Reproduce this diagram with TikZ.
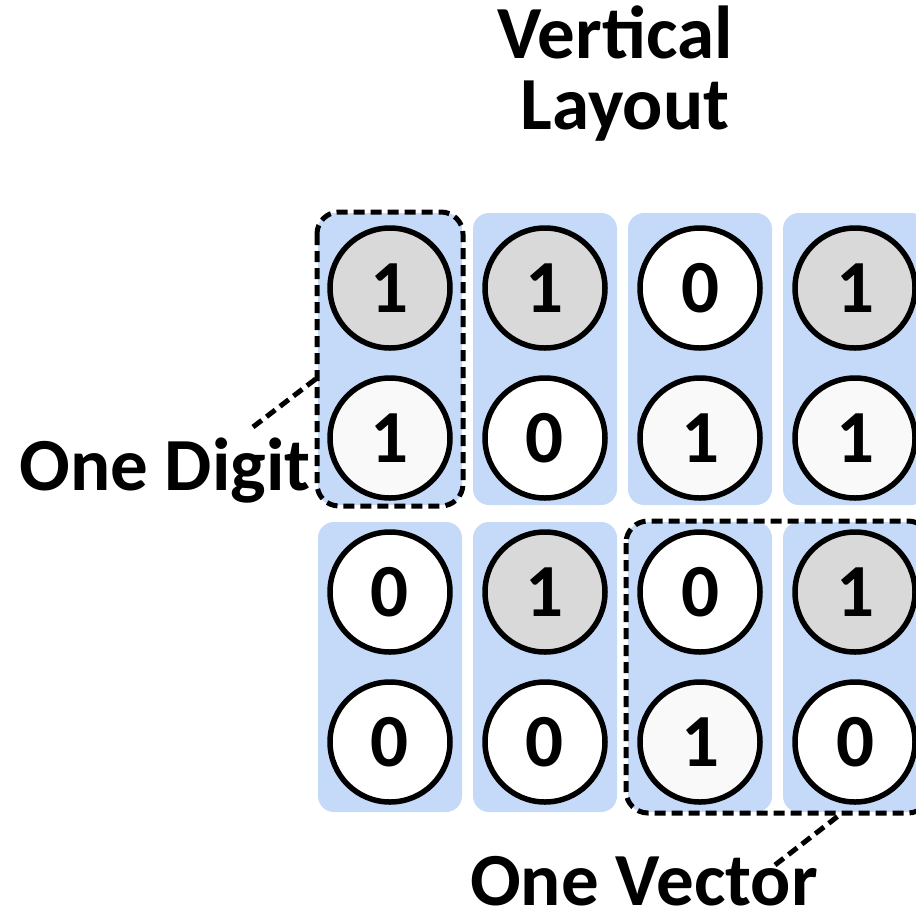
\documentclass[tikz,border=0pt]{standalone}
\usepackage{fontspec}
\setmainfont{Carlito}
\definecolor{laneblue}{RGB}{197,217,248}
\definecolor{bitgrey}{RGB}{217,217,217}
\definecolor{bitlight}{RGB}{249,249,249}
\begin{document}
\begin{tikzpicture}[x=1pt,y=-1pt,
  every node/.style={font=\fontsize{75}{75}\bfseries\selectfont},
  lane/.style={fill=laneblue, rounded corners=16pt},
  bit/.style={circle, draw=black, line width=5.5pt, minimum size=120pt, inner sep=0pt},
  hi/.style={bit, fill=bitgrey},
  lo/.style={bit, fill=bitlight},
  zero/.style={bit, fill=white},
  caption/.style={anchor=base, inner sep=0pt},
  group/.style={draw=black, dash pattern=on 11pt off 6pt, line width=5pt, rounded corners=22pt},
  leader/.style={draw=black, dash pattern=on 11pt off 6pt, line width=5pt}]
\useasboundingbox (0,0) rectangle (916,914);
\clip (0,0) rectangle (916,914);

% column lanes
\foreach \c in {390,545,700,855} {
  \fill[lane] (\c-72,213) rectangle (\c+72,505);
  \fill[lane] (\c-72,522) rectangle (\c+72,812);
}

% bits, upper block
\node[hi]   (a1) at (390,288) {1};
\node[hi]   (a2) at (545,288) {1};
\node[zero] (a3) at (700,288) {0};
\node[hi]   (a4) at (855,288) {1};
\node[lo]   (b1) at (390,438) {1};
\node[zero] (b2) at (545,438) {0};
\node[lo]   (b3) at (700,438) {1};
\node[lo]   (b4) at (855,438) {1};
% bits, lower block
\node[zero] (c1) at (390,592) {0};
\node[hi]   (c2) at (545,592) {1};
\node[zero] (c3) at (700,592) {0};
\node[hi]   (c4) at (855,592) {1};
\node[zero] (d1) at (390,742) {0};
\node[zero] (d2) at (545,742) {0};
\node[lo]   (d3) at (700,742) {1};
\node[zero] (d4) at (855,742) {0};

% dashed groupings
\draw[group] (317,212) rectangle (463,506);
\draw[group] (626,521) rectangle (930,813);

% captions
\node[caption] (title1) at (615,58) {Vertical};
\node[caption] (title2) at (625,129) {Layout};
\node[caption] (digitlabel) at (165,490) {One Digit};
\node[caption] (vectorlabel) at (644,905) {One Vector};

% leaders
\coordinate (digitfoot) at (253,427);
\coordinate (digittip) at (317,378);
\draw[leader] (digitfoot) -- (digittip);
\coordinate (vectorfoot) at (775,865);
\coordinate (vectortip) at (842,813);
\draw[leader] (vectorfoot) -- (vectortip);
\end{tikzpicture}
\end{document}
